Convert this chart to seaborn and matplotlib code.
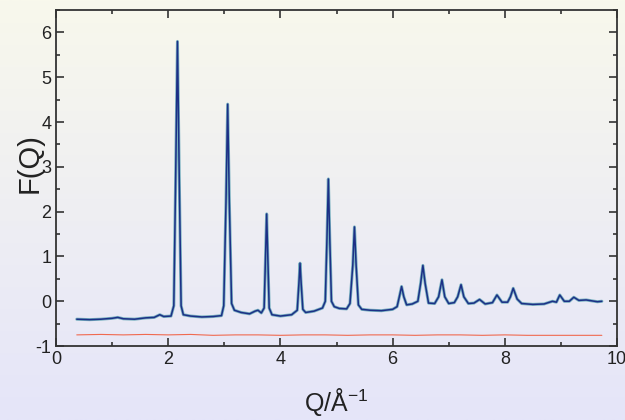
import numpy as np
import pandas as pd
import matplotlib
matplotlib.use("Agg")
import matplotlib.pyplot as plt
from matplotlib.colors import LinearSegmentedColormap
from matplotlib.ticker import MultipleLocator
import seaborn as sns

# ---- data ----
q_data = [0.37, 0.6, 0.8, 1.0, 1.1, 1.2, 1.4, 1.6, 1.75, 1.85, 1.92, 2.05,
          2.10, 2.13, 2.165, 2.20, 2.23, 2.27, 2.4, 2.6, 2.8, 2.95,
          2.99, 3.03, 3.06, 3.09, 3.13, 3.18, 3.3, 3.45, 3.55, 3.6, 3.66,
          3.71, 3.735, 3.755, 3.775, 3.80, 3.85, 4.0, 4.2, 4.3,
          4.33, 4.35, 4.37, 4.40, 4.45, 4.6, 4.75,
          4.80, 4.83, 4.855, 4.88, 4.91, 4.96, 5.05, 5.18,
          5.24, 5.29, 5.32, 5.35, 5.39, 5.45, 5.6, 5.8, 6.0, 6.08,
          6.12, 6.16, 6.20, 6.25, 6.35, 6.45,
          6.50, 6.54, 6.58, 6.64, 6.75, 6.82, 6.88, 6.93, 7.0, 7.1,
          7.16, 7.22, 7.27, 7.35, 7.45, 7.55, 7.65, 7.78, 7.86, 7.95,
          8.05, 8.10, 8.15, 8.22, 8.3, 8.5, 8.7, 8.85, 8.92, 8.98,
          9.06, 9.15, 9.23, 9.32, 9.45, 9.55, 9.65, 9.73]
f_data = [-0.40, -0.41, -0.40, -0.38, -0.36, -0.39, -0.40, -0.37, -0.36, -0.30, -0.34, -0.33,
          -0.10, 2.5, 5.8, 2.5, -0.10, -0.30, -0.33, -0.35, -0.34, -0.32,
          -0.10, 2.2, 4.4, 2.2, -0.05, -0.20, -0.25, -0.28, -0.22, -0.20, -0.26,
          -0.15, 1.0, 1.95, 1.0, -0.15, -0.30, -0.33, -0.30, -0.20,
          0.4, 0.85, 0.4, -0.18, -0.25, -0.22, -0.15,
          0.0, 1.4, 2.73, 1.4, 0.0, -0.12, -0.16, -0.17,
          -0.05, 0.8, 1.66, 0.8, -0.08, -0.18, -0.20, -0.21, -0.18, -0.12,
          0.1, 0.33, 0.1, -0.08, -0.06, 0.0,
          0.4, 0.80, 0.4, -0.04, -0.05, 0.1, 0.48, 0.1, -0.05, -0.03,
          0.1, 0.37, 0.1, -0.05, -0.04, 0.04, -0.06, -0.03, 0.14, -0.02,
          -0.02, 0.1, 0.29, 0.05, -0.05, -0.07, -0.06, 0.0, -0.02, 0.14,
          0.0, 0.0, 0.09, 0.02, 0.03, 0.01, -0.01, 0.0]

q_diff = [0.37, 0.8, 1.2, 1.6, 2.0, 2.4, 2.8, 3.2, 3.6, 4.0, 4.4, 4.8,
          5.2, 5.6, 6.0, 6.4, 6.8, 7.2, 7.6, 8.0, 8.4, 8.8, 9.2, 9.73]
f_diff = [-0.75, -0.74, -0.75, -0.74, -0.75, -0.74, -0.76, -0.75, -0.75, -0.76, -0.75, -0.75,
          -0.76, -0.75, -0.75, -0.76, -0.75, -0.75, -0.76, -0.75, -0.76, -0.76, -0.76, -0.76]

x_ticks = [0, 2, 4, 6, 8, 10]
y_ticks = [-1, 0, 1, 2, 3, 4, 5, 6]

df_data = pd.DataFrame({"Q": q_data, "F": f_data})
df_diff = pd.DataFrame({"Q": q_diff, "F": f_diff})

sns.set_style("ticks")
plt.rcParams["font.family"] = ["Liberation Sans", "DejaVu Sans"]
plt.rcParams["axes.unicode_minus"] = False

fig = plt.figure(figsize=(6.25, 4.2), dpi=100)

# background gradient
bg = fig.add_axes([0, 0, 1, 1], zorder=-10)
cmap = LinearSegmentedColormap.from_list("bg", ["#f8f8ec", "#e5e5f9"])
bg.imshow(np.linspace(0, 1, 256).reshape(-1, 1), aspect="auto", cmap=cmap,
          extent=[0, 1, 0, 1])
bg.set_axis_off()

ax = fig.add_axes([0.0896, 0.176, 0.8976, 0.800])
ax.set_facecolor("none")

sns.lineplot(data=df_diff, x="Q", y="F", ax=ax, color="#f06a50", lw=0.8,
             estimator=None, sort=False)
sns.lineplot(data=df_data, x="Q", y="F", ax=ax, color="#78b0c0", lw=2.2,
             estimator=None, sort=False)
sns.lineplot(data=df_data, x="Q", y="F", ax=ax, color="#1c2f86", lw=1.1,
             estimator=None, sort=False)

ax.set_xlim(0, 10)
ax.set_ylim(-1, 6.5)
ax.set_xticks(x_ticks)
ax.set_yticks(y_ticks)
ax.xaxis.set_minor_locator(MultipleLocator(1))
ax.yaxis.set_minor_locator(MultipleLocator(0.5))
ax.tick_params(which="both", direction="in", top=True, right=True,
               color="#333333", width=1.2, labelsize=13, labelcolor="#222222")
ax.tick_params(which="major", length=6)
ax.tick_params(which="minor", length=3)
for s in ax.spines.values():
    s.set_color("#333333")
    s.set_linewidth(1.3)

ax.set_xlabel("Q/Å$^{\\mathregular{-1}}$", fontsize=18, color="#222222")
ax.set_ylabel("F(Q)", fontsize=21, color="#222222")
ax.xaxis.set_label_coords(0.5, -0.12)
ax.yaxis.set_label_coords(-0.022, 0.545)

fig.savefig("out.png", dpi=100)
